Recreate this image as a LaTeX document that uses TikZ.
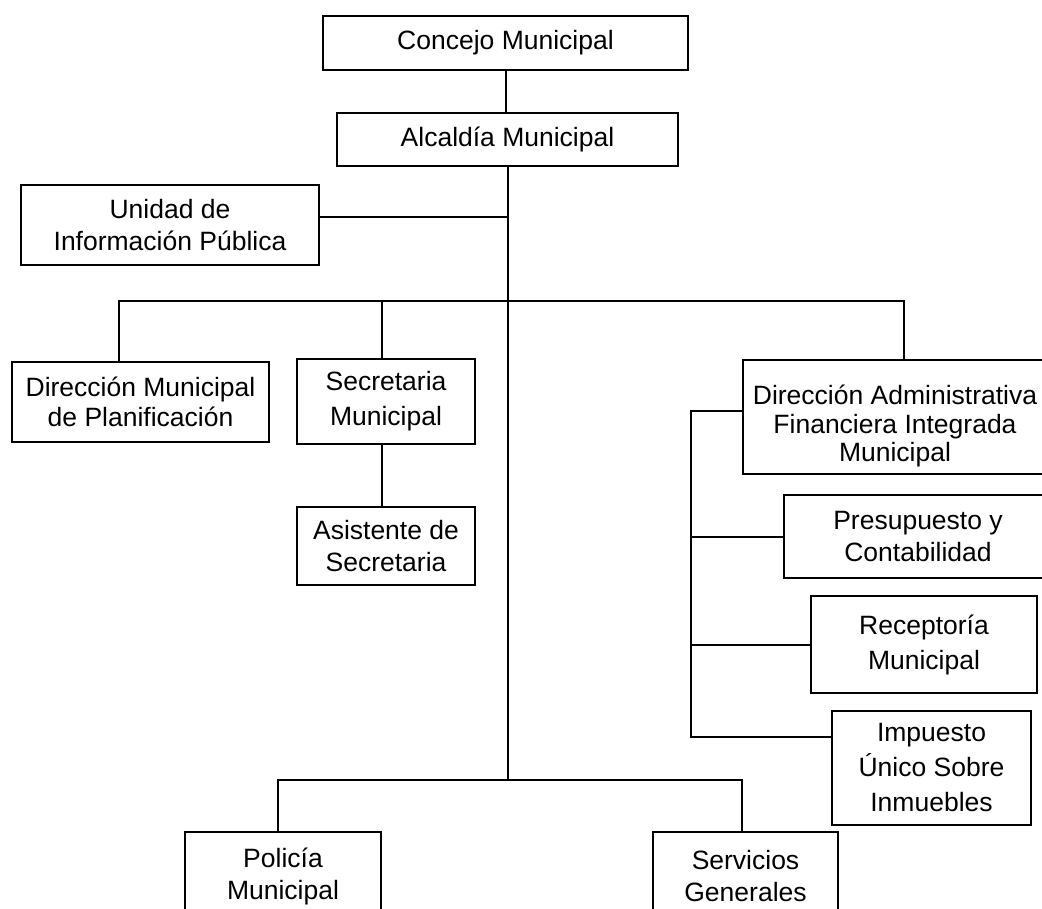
\documentclass[tikz,border=0pt]{standalone}
\usepackage{fontspec}
\setmainfont{Liberation Sans}
\usetikzlibrary{positioning}

\begin{document}
\begin{tikzpicture}[x=1pt, y=-1pt, line width=2pt,
    unitbox/.style={draw, align=center, inner sep=0pt, font=\fontsize{26.5}{32}\selectfont},
    widelines/.style={font=\fontsize{26.5}{35}\selectfont}]
      \useasboundingbox (0,0) rectangle (1042,909);
      \clip (0,0) rectangle (1042,909);
      \node[unitbox, minimum width=365, minimum height=54] (concejo) at (505.5,43) {Concejo Municipal};
      \node[unitbox, minimum width=341, minimum height=53] (alcaldia) at (507.5,139.5) {Alcaldía Municipal};
      \node[unitbox, minimum width=298, minimum height=80] (unidad) at (170,225) {Unidad de\\Información Pública};
      \node[unitbox, minimum width=257, minimum height=80, font=\fontsize{26.5}{30}\selectfont] (planif) at (140.5,402) {Dirección Municipal\\de Planificación};
      \node[unitbox, widelines, minimum width=178, minimum height=85] (secret) at (386,401.5) {Secretaria\\Municipal};
      \node[unitbox, minimum width=178, minimum height=78] (asist) at (386,546) {Asistente de\\Secretaria};
      \node[unitbox, minimum width=304, minimum height=114] (dafim) at (895,417) {};
      \node[align=center, inner sep=0pt, font=\fontsize{26.5}{28.5}\selectfont] (dafimtext) at (895,426) {Dirección Administrativa\\Financiera Integrada\\Municipal};
      \node[unitbox, minimum width=268, minimum height=83] (presup) at (918,536.5) {Presupuesto y\\Contabilidad};
      \node[unitbox, widelines, minimum width=226, minimum height=97] (recept) at (924,644.5) {Receptoría\\Municipal};
      \node[unitbox, widelines, minimum width=199, minimum height=114] (iusi) at (931.5,768) {Impuesto\\Único Sobre\\Inmuebles};
      \node[unitbox, minimum width=196, minimum height=88] (policia) at (283,876) {Policía\\Municipal};
      \node[unitbox, minimum width=185, minimum height=88] (servgen) at (745.5,876) {Servicios\\Generales};

      \coordinate (uip) at (507,217);
      \coordinate (busL) at (119,301);
      \coordinate (busS) at (382,301);
      \coordinate (busR) at (904,301);
      \coordinate (brT) at (691,411);
      \coordinate (brB) at (691,737);
      \coordinate (botL) at (278,780);
      \coordinate (botR) at (742,780);

      \draw (concejo.south) -- (concejo.south |- alcaldia.north);
      \draw (alcaldia.south) -- (alcaldia.south |- botL);
      \draw (uip) -- (uip -| unidad.east);
      \draw (busL |- planif.north) -- (busL) -- (busR) -- (busR |- dafim.north);
      \draw (busS) -- (busS |- secret.north);
      \draw (busS |- secret.south) -- (busS |- asist.north);
      \draw (brT -| dafim.west) -- (brT) -- (brB) -- (brB -| iusi.west);
      \draw (presup.west) -- (presup.west -| brT);
      \draw (recept.west) -- (recept.west -| brT);
      \draw (botL |- policia.north) -- (botL) -- (botR) -- (botR |- servgen.north);
\end{tikzpicture}
\end{document}
